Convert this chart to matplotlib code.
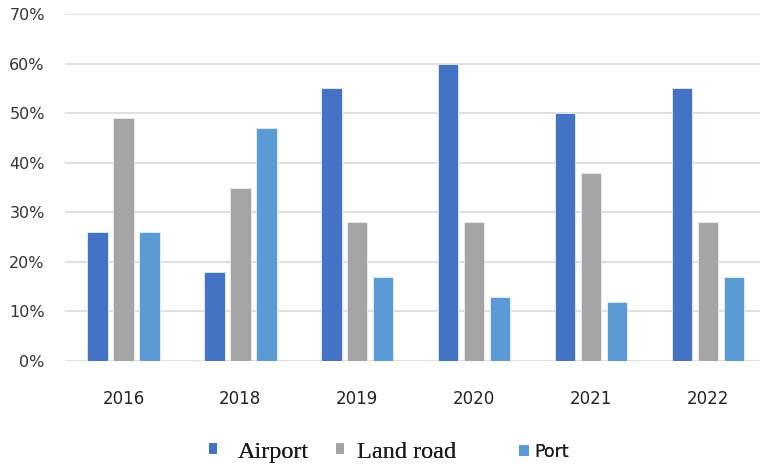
import numpy as np
from matplotlib import pyplot as plt
from matplotlib.patches import Patch
from matplotlib.ticker import PercentFormatter

years = ["2016", "2018", "2019", "2020", "2021", "2022"]
airport = [26, 18, 55, 60, 50, 55]
land_road = [49, 35, 28, 28, 38, 28]
port = [26, 47, 17, 13, 12, 17]

colors = {"Airport": "#4472C4", "Land road": "#A5A5A5", "Port": "#5B9BD5"}

fig = plt.figure(figsize=(7.6, 4.67), dpi=100)
ax = fig.add_axes([65 / 760, 1 - 361 / 467, 695 / 760, 347 / 467])

x = np.arange(len(years))
width = 0.175
step = 0.222
for off, vals, name in [(-step, airport, "Airport"), (0, land_road, "Land road"), (step, port, "Port")]:
    ax.bar(x + off, vals, width, color=colors[name], edgecolor="#E8EEF8", linewidth=0.6, zorder=3)

ax.set_ylim(0, 70)
ax.set_xlim(-0.5, 5.445)
ax.set_yticks(range(0, 71, 10))
ax.yaxis.set_major_formatter(PercentFormatter(decimals=0))
ax.grid(axis="y", color="#D9D9D9", linewidth=1.2, zorder=0)
ax.set_xticks(x)
ax.set_xticklabels(years)
for s in ax.spines.values():
    s.set_visible(False)
ax.tick_params(axis="y", length=0, pad=14.5, labelsize=11.5, labelcolor="#333333")
ax.tick_params(axis="x", length=0, pad=21, labelsize=12, labelcolor="#222222")

# legend entries, each placed on its own like in the reference
entries = [
    ("Airport", 0.275, "Liberation Serif", 17.5, 0.33, 0.86),
    ("Land road", 0.442, "Liberation Serif", 17.5, 0.33, 0.53),
    ("Port", 0.683, "DejaVu Sans", 12.5, 0.6, 0.28),
]
for name, xpos, fam, size, hl, pad in entries:
    leg = fig.legend(handles=[Patch(facecolor=colors[name], label=name)],
                     loc="center left", bbox_to_anchor=(xpos, 0.032),
                     frameon=False, handlelength=hl, handleheight=hl,
                     handletextpad=pad, borderpad=0, borderaxespad=0,
                     prop={"family": fam, "size": size})
    for t in leg.get_texts():
        t.set_color("#1a1a1a")
    fig.add_artist(leg)

fig.savefig("out.png", dpi=100)
